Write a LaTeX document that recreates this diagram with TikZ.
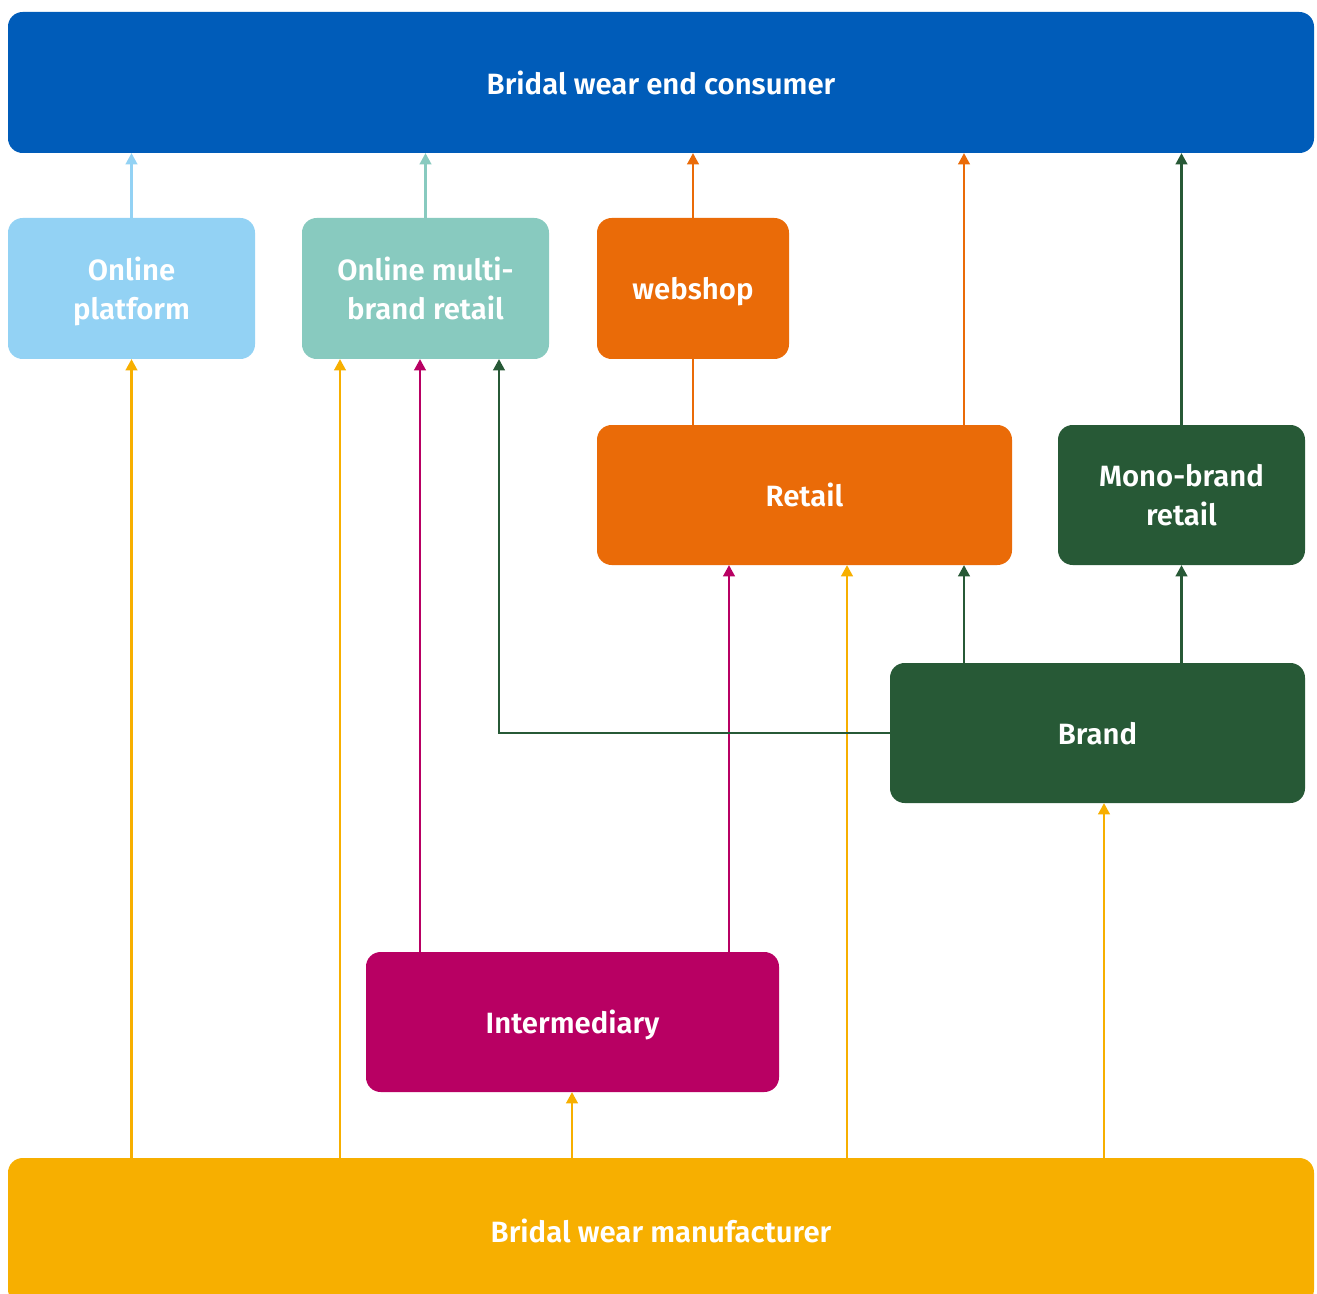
\documentclass[tikz,border=0pt]{standalone}
\usepackage{fontspec}
\setmainfont{Fira Sans}[BoldFont={Fira Sans SemiBold}]
\usetikzlibrary{arrows.meta}

\definecolor{consblue}{RGB}{0,92,185}
\definecolor{platblue}{RGB}{147,210,244}
\definecolor{multiteal}{RGB}{136,202,191}
\definecolor{shoporange}{RGB}{234,107,8}
\definecolor{brandgreen}{RGB}{39,89,54}
\definecolor{intermagenta}{RGB}{184,0,99}
\definecolor{manuyellow}{RGB}{247,175,0}

\tikzset{
  box/.style={rounded corners=11pt, inner sep=0pt, outer sep=0pt, anchor=north west,
    text=white, align=center, text depth=0pt, font=\bfseries\fontsize{22}{29}\selectfont},
  link/.style={line width=2.2pt, -{Triangle[length=8.5pt,width=8.5pt]}},
}

\begin{document}
\begin{tikzpicture}[x=0.75pt,y=0.75pt,yscale=-1,xscale=1]
\useasboundingbox (0,0) rectangle (1317,1294);

%Shape: boxes
\node (cons) [box, fill=consblue, minimum width=979.5pt, minimum height=105.75pt] at (8,12) {Bridal wear end consumer};
\node (plat) [box, fill=platblue, minimum width=185.25pt, minimum height=105.75pt] at (8,218) {Online\\platform};
\node (multi) [box, fill=multiteal, minimum width=185.25pt, minimum height=105.75pt] at (302,218) {Online multi-\\brand retail};
\node (shop) [box, fill=shoporange, minimum width=144pt, minimum height=105.75pt] at (597,218) {webshop};
\node (retail) [box, fill=shoporange, minimum width=311.25pt, minimum height=105pt] at (597,425) {Retail};
\node (mono) [box, fill=brandgreen, minimum width=185.25pt, minimum height=105pt] at (1058,425) {Mono-brand\\retail};
\node (brand) [box, fill=brandgreen, minimum width=311.25pt, minimum height=105pt] at (890,663) {Brand};
\node (inter) [box, fill=intermagenta, minimum width=309.75pt, minimum height=105pt] at (366,952) {Intermediary};
\node (manu) [box, fill=manuyellow, minimum width=979.5pt, minimum height=109.5pt] at (8,1158) {Bridal wear manufacturer};

%Arrows: to end consumer
\draw [link, platblue] (plat.north) -- (plat.north |- cons.south);
\draw [link, multiteal] (multi.north) -- (multi.north |- cons.south);
\draw [link, shoporange] (shop.north) -- (shop.north |- cons.south);
\draw [link, shoporange] (964,0 |- retail.north) -- (964,0 |- cons.south);
\draw [link, brandgreen] (mono.north) -- (mono.north |- cons.south);
\draw [line width=2.2pt, shoporange] (shop.south |- retail.north) -- (shop.south);

%Arrows: from manufacturer
\draw [link, manuyellow] (plat.south |- manu.north) -- (plat.south);
\draw [link, manuyellow] (340,0 |- manu.north) -- (340,0 |- multi.south);
\draw [link, manuyellow] (572,0 |- manu.north) -- (572,0 |- inter.south);
\draw [link, manuyellow] (847,0 |- manu.north) -- (847,0 |- retail.south);
\draw [link, manuyellow] (1104,0 |- manu.north) -- (1104,0 |- brand.south);

%Arrows: from intermediary
\draw [link, intermagenta] (420,0 |- inter.north) -- (420,0 |- multi.south);
\draw [link, intermagenta] (729,0 |- inter.north) -- (729,0 |- retail.south);

%Arrows: from brand
\draw [link, brandgreen] (brand.west) -| (499,0 |- multi.south);
\draw [link, brandgreen] (964,0 |- brand.north) -- (964,0 |- retail.south);
\draw [link, brandgreen] (mono.south |- brand.north) -- (mono.south);

\end{tikzpicture}
\end{document}
